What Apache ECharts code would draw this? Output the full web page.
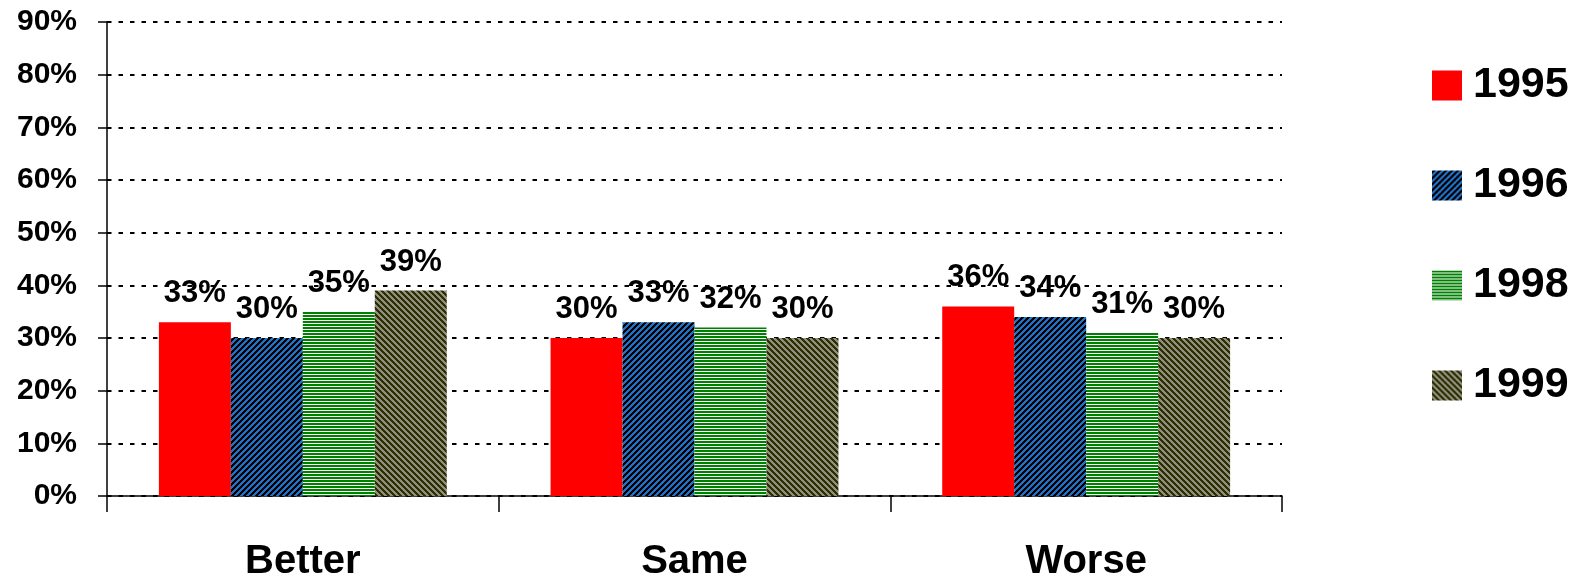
<!DOCTYPE html>
<html>
<head>
<meta charset="utf-8">
<script src="https://cdn.jsdelivr.net/npm/echarts@6/dist/echarts.min.js"></script>
<style>
  html, body { margin: 0; padding: 0; background: #fff; }
  #chart { width: 1577px; height: 586px; }
</style>
</head>
<body>
<div id="chart"></div>
<script>
// Survey answers by year, in percent
const categories = ['Better', 'Same', 'Worse'];
const years = ['1995', '1996', '1998', '1999'];
const values1995 = [33, 30, 36];
const values1996 = [30, 33, 34];
const values1998 = [35, 32, 31];
const values1999 = [39, 30, 30];
const yTicks = { min: 0, max: 90, step: 10 };

// Small repeating canvas tiles used as hatched fills
function makeTile(w, h, pick) {
  const c = document.createElement('canvas');
  c.width = w; c.height = h;
  const ctx = c.getContext('2d');
  for (let y = 0; y < h; y++) {
    for (let x = 0; x < w; x++) {
      ctx.fillStyle = pick(x, y);
      ctx.fillRect(x, y, 1, 1);
    }
  }
  return { image: c, repeat: 'repeat' };
}
const solidRed = '#ff0000';
const blueHatch = makeTile(6, 6, (x, y) => ((x + y) % 6 < 3 ? '#000000' : '#1e72c8'));
const greenLines = makeTile(3, 3, (x, y) => (y % 3 < 2 ? '#008000' : '#ffffff'));
const oliveHatch = makeTile(6, 6, (x, y) => (((x - y) % 6 + 6) % 6 < 3 ? '#2e2e00' : '#8f8f80'));

const fills = [solidRed, blueHatch, greenLines, oliveHatch];
const seriesValues = [values1995, values1996, values1998, values1999];

const font = 'Liberation Sans, Arial, sans-serif';

const chart = echarts.init(document.getElementById('chart'), null, { renderer: 'canvas' });
chart.setOption({
  animation: false,
  backgroundColor: '#ffffff',
  grid: { left: 107, right: 295, top: 22, bottom: 90, containLabel: false },
  legend: {
    orient: 'vertical',
    left: 1427,
    top: 58,
    icon: 'rect',
    itemWidth: 30,
    itemHeight: 30,
    itemGap: 55,
    data: years,
    textStyle: { fontFamily: font, fontWeight: 'bold', fontSize: 43, color: '#000', lineHeight: 45, padding: [0, 0, 0, 6] }
  },
  xAxis: {
    type: 'category',
    data: categories,
    boundaryGap: true,
    axisLine: { lineStyle: { color: '#000', width: 1.5 } },
    axisTick: { show: true, length: 16, lineStyle: { color: '#000', width: 1.5 } },
    axisLabel: { fontFamily: font, fontWeight: 'bold', fontSize: 40, color: '#000', margin: 46 }
  },
  yAxis: {
    type: 'value',
    min: yTicks.min,
    max: yTicks.max,
    interval: yTicks.step,
    axisLine: { show: true, lineStyle: { color: '#000', width: 1.5 } },
    axisTick: { show: true, length: 9, lineStyle: { color: '#000', width: 1.5 } },
    axisLabel: { fontFamily: font, fontWeight: 'bold', fontSize: 30, color: '#000', margin: 30, formatter: '{value}%' },
    splitLine: { show: true, lineStyle: { color: '#000', width: 2, type: [4.5, 7] } }
  },
  series: years.map((name, i) => ({
    name,
    type: 'bar',
    data: seriesValues[i],
    barGap: '0%',
    barCategoryGap: '26.5%',
    itemStyle: { color: fills[i] },
    label: {
      show: true,
      position: 'top',
      distance: 13,
      formatter: '{c}%',
      fontFamily: font,
      fontWeight: 'bold',
      fontSize: 31,
      color: '#000'
    }
  }))
});
</script>
</body>
</html>
